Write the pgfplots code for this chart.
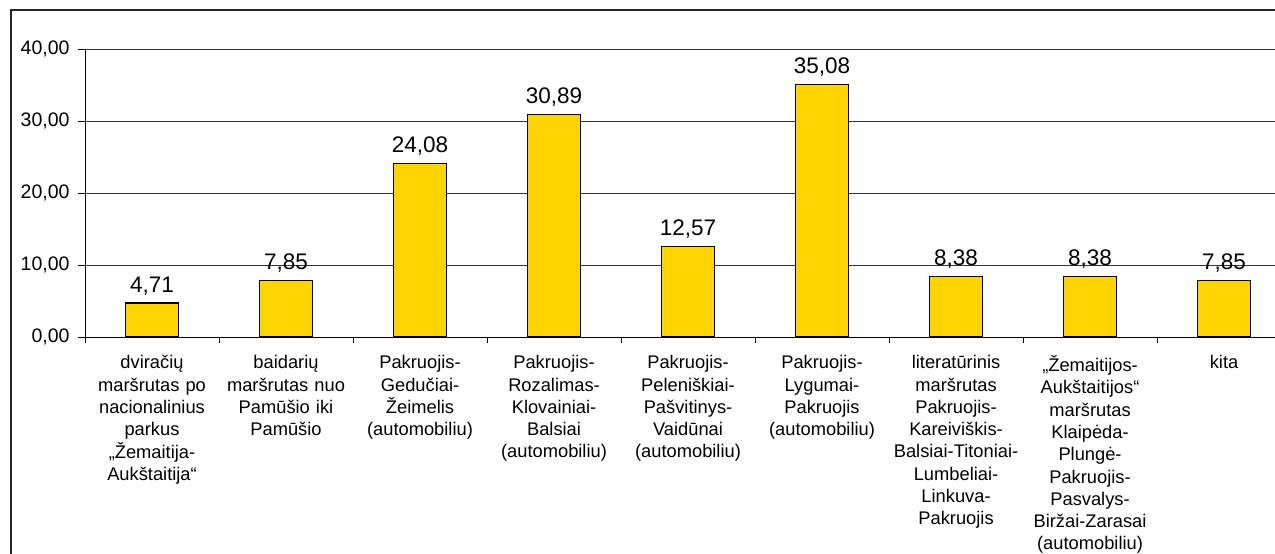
\documentclass[border=0pt]{standalone}
\usepackage{fontspec}
\setmainfont{Liberation Sans}
\usepackage{pgfplots}
\pgfplotsset{compat=1.18}
\definecolor{baryellow}{RGB}{255,212,0}

\begin{document}
\begin{tikzpicture}
% image frame: 1275 x 554, axis origin at (85,337) in pixels
\useasboundingbox (-85bp,-217bp) rectangle (1190bp,337bp);
\begin{axis}[
  at={(0,0)}, anchor=south west,
  scale only axis, width=1190bp, height=288bp,
  xmin=-0.5, xmax=8.38, ymin=0, ymax=40,
  axis x line*=bottom, axis y line*=left,
  axis line style={black, line width=0.9bp},
  ytick={0,10,20,30,40},
  yticklabels={{0,00},{10,00},{20,00},{30,00},{40,00}},
  ymajorgrids, grid style={black!80, line width=0.9bp},
  tick align=outside, major tick length=7bp, minor tick length=6bp,
  tick style={black, line width=0.9bp},
  xtick={0,...,8},
  major x tick style={draw=none},
  minor xtick={-0.5,0.5,...,7.5},
  y tick label style={font=\fontsize{19.5bp}{22bp}\selectfont, xshift=-5bp},
  x tick label style={font=\fontsize{18.3bp}{22.3bp}\selectfont,
    text width=134bp, align=center, anchor=north, yshift=-8bp},
  xticklabels={
    {dviračių\\maršrutas po\\nacionalinius\\parkus\\„Žemaitija-\\Aukštaitija“},
    {baidarių\\maršrutas nuo\\Pamūšio iki\\Pamūšio},
    {Pakruojis-\\Gedučiai-\\Žeimelis\\(automobiliu)},
    {Pakruojis-\\Rozalimas-\\Klovainiai-\\Balsiai\\(automobiliu)},
    {Pakruojis-\\Peleniškiai-\\Pašvitinys-\\Vaidūnai\\(automobiliu)},
    {Pakruojis-\\Lygumai-\\Pakruojis\\(automobiliu)},
    {literatūrinis\\maršrutas\\Pakruojis-\\Kareiviškis-\\Balsiai-Titoniai-\\Lumbeliai-\\Linkuva-\\Pakruojis},
    {„Žemaitijos-\\Aukštaitijos“\\maršrutas\\Klaipėda-\\Plungė-\\Pakruojis-\\Pasvalys-\\Biržai-Zarasai\\(automobiliu)},
    {kita}},
  ybar, bar width=0.4,
  nodes near coords={\pgfmathprintnumber[fixed, fixed zerofill, precision=2, use comma, assume math mode=true]{\pgfplotspointmeta}},
  every node near coord/.append style={font=\fontsize{22.5bp}{25bp}\selectfont, yshift=4bp},
]
\addplot[fill=baryellow, draw=black, line width=1.2bp] coordinates {
  (0,4.71) (1,7.85) (2,24.08) (3,30.89) (4,12.57)
  (5,35.08) (6,8.38) (7,8.38) (8,7.85)
};
\end{axis}
% chart area border (cut off at the right and bottom)
\draw[line width=2bp, black!85] (-74bp,-300bp) -- (-74bp,327bp) -- (1300bp,327bp);
\end{tikzpicture}
\end{document}
